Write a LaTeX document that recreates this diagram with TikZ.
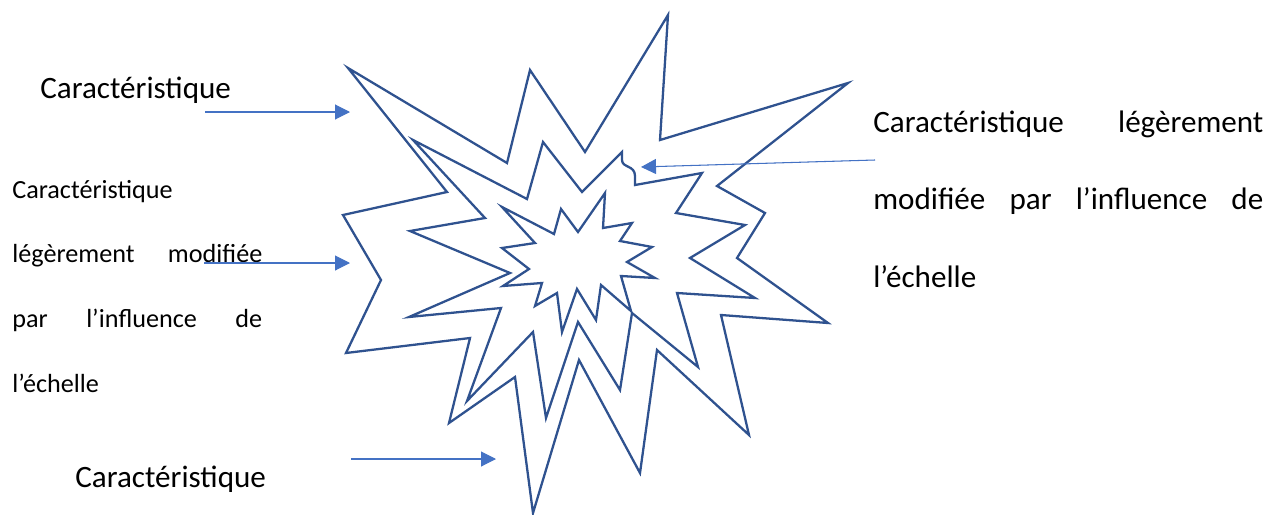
\documentclass[tikz,border=0pt]{standalone}
\usepackage{fontspec}
\setmainfont{Carlito}
\usetikzlibrary{arrows.meta}

\begin{document}
\begin{tikzpicture}[
  x=0.02cm,y=-0.02cm,
  burst/.style={draw=burstc,line width=1.3pt,line join=miter},
  pointer/.style={-{Triangle[length=0.3cm,width=0.3cm]},draw=arrowc,fill=arrowc,line width=0.6pt},
  biglab/.style={font=\fontsize{17.7}{44.3}\selectfont,inner sep=0pt},
  smalllab/.style={font=\fontsize{14.9}{36.9}\selectfont,inner sep=0pt}]

  \definecolor{burstc}{RGB}{47,82,143}
  \definecolor{arrowc}{RGB}{68,114,196}

  \useasboundingbox (0,0) rectangle (1284,514);

  % ---- bursts ----
  % outer
  \draw[burst] (348,68) -- (507,163) -- (530,70) -- (585,152) -- (668,15) -- (660,140)
    -- (848,83) -- (717,186) -- (765,213) -- (737,258) -- (828,323) -- (721,315)
    -- (749,435) -- (657,350) -- (640,473) -- (579,360) -- (533,513) -- (515,377)
    -- (449,423) -- (470,338) -- (346,353) -- (381,280) -- (343,215) -- (447,192) -- cycle;
  % middle
  \draw[burst] (413,140) -- (527,199) -- (543,142) -- (582,192) -- (622,152) -- (622,160)
    .. controls (622,168) and (635,165) .. (635,176) -- (635,185) -- (702,173)
    -- (676,213) -- (745,225) -- (690,258) -- (755,298) -- (677,293) -- (698,367)
    -- (632,313) -- (620,390) -- (578,322) -- (546,418) -- (533,332) -- (467,401)
    -- (501,308) -- (409,317) -- (510,273) -- (410,231) -- (485,218) -- cycle;
  % inner
  \draw[burst] (502,207) -- (554,234) -- (561,209) -- (578,232) -- (605,193) -- (603,228)
    -- (632,223) -- (620,241) -- (652,247) -- (627,262) -- (655,278) -- (621,276)
    -- (631,311) -- (601,285) -- (596,320) -- (577,289) -- (562,332) -- (557,293)
    -- (535,306) -- (542,283) -- (503,286) -- (529,269) -- (502,248) -- (535,243) -- cycle;

  % ---- labels ----
  \node[biglab,anchor=base west] (topcar) at (40,98) {Caractéristique};
  \node[biglab,anchor=base west] (botcar) at (75,487) {Caractéristique};
  \node[smalllab,text width=5cm,align=left,anchor=base west] (lefttxt) at (12,198)
    {Caractéristique\\ légèrement\hfill modifiée\\ par\hfill l’influence\hfill de\\ l’échelle};
  \node[biglab,text width=7.8cm,align=left,anchor=base west] (righttxt) at (873,132)
    {Caractéristique\hfill légèrement\\ modifiée\hfill par\hfill l’influence\hfill de\\ l’échelle};

  % ---- pointers ----
  \coordinate (topfrom) at (205,112);
  \coordinate (topto) at (350,112);
  \coordinate (midfrom) at (204,263);
  \coordinate (midto) at (350,263);
  \coordinate (botfrom) at (351,459);
  \coordinate (botto) at (496,459);
  \coordinate (rightfrom) at (875,160);
  \coordinate (rightto) at (641,167);
  \draw[pointer] (topfrom) -- (topto);
  \draw[pointer] (midfrom) -- (midto);
  \draw[pointer] (botfrom) -- (botto);
  \draw[pointer] (rightfrom) -- (rightto);
\end{tikzpicture}
\end{document}
